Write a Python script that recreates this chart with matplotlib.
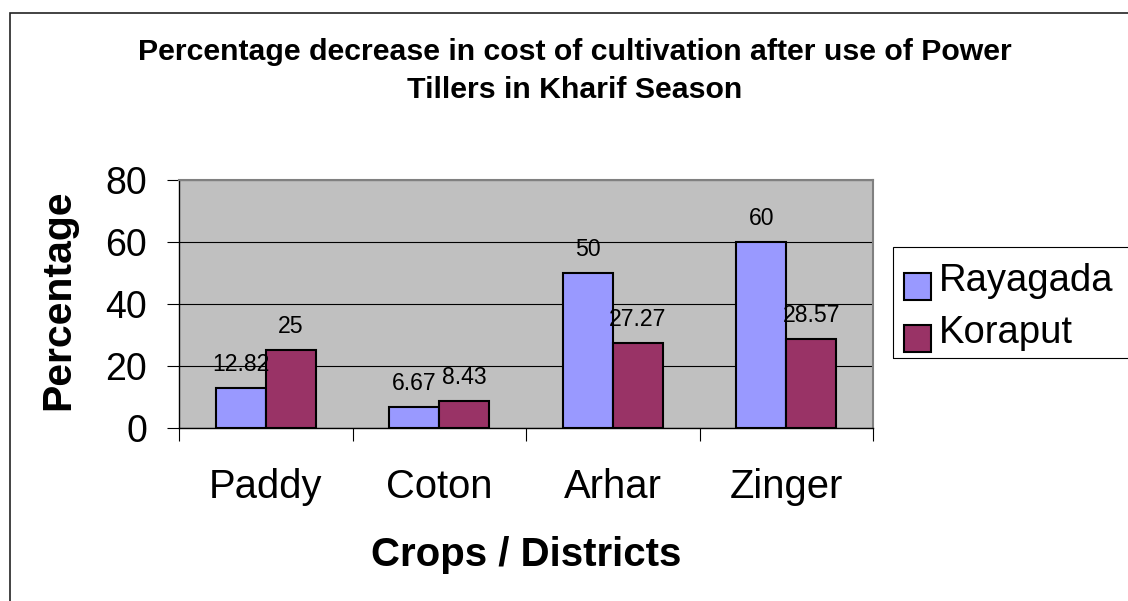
import matplotlib
matplotlib.use("Agg")
import matplotlib.pyplot as plt
from matplotlib.patches import Rectangle
from matplotlib.legend_handler import HandlerPatch
import numpy as np

plt.rcParams['font.family'] = ['Liberation Sans', 'DejaVu Sans']

crops = ["Paddy", "Coton", "Arhar", "Zinger"]
rayagada = [12.82, 6.67, 50, 60]
koraput = [25, 8.43, 27.27, 28.57]
rayagada_labels = ["12.82", "6.67", "50", "60"]
koraput_labels = ["25", "8.43", "27.27", "28.57"]
y_ticks = [0, 20, 40, 60, 80]

W, H = 1128, 601
fig = plt.figure(figsize=(W / 100, H / 100), dpi=100)
fig.patch.set_facecolor("white")

# plot area in pixel terms
left, right, top, bottom = 179, 873, 180, 427.5
ax = fig.add_axes([left / W, (H - bottom) / H, (right - left) / W, (bottom - top) / H])
ax.set_facecolor("#C0C0C0")

x = np.arange(len(crops))
bw = 0.288
b1 = ax.bar(x - bw / 2, rayagada, bw, color="#9999FF", edgecolor="black", linewidth=1.5,
            label="Rayagada", zorder=3)
b2 = ax.bar(x + bw / 2, koraput, bw, color="#993366", edgecolor="black", linewidth=1.5,
            label="Koraput", zorder=3)

for bars, labels in ((b1, rayagada_labels), (b2, koraput_labels)):
    for rect, lab in zip(bars, labels):
        ax.annotate(lab, (rect.get_x() + rect.get_width() / 2, rect.get_height()),
                    xytext=(0, 12.3), textcoords="offset points",
                    ha="center", va="baseline", fontsize=16.6, zorder=4)

ax.set_xlim(-0.5, len(crops) - 0.5)
ax.set_ylim(0, 80)
ax.set_yticks(y_ticks)
ax.yaxis.grid(True, color="black", linewidth=0.8, zorder=1)
ax.set_axisbelow(True)

ax.set_xticks(x)
ax.set_xticklabels(crops, fontsize=28.8)
ax.set_xticks(np.arange(-0.5, len(crops)), minor=True)
ax.tick_params(axis="x", which="major", length=0, pad=29.5)
ax.tick_params(axis="x", which="minor", length=9, width=0.8, direction="out", color="black")
ax.tick_params(axis="y", which="major", length=9, width=0.8, direction="out",
               labelsize=27, pad=14)

for side in ("top", "right"):
    ax.spines[side].set_color("#808080")
    ax.spines[side].set_linewidth(1.5)
for side in ("left", "bottom"):
    ax.spines[side].set_color("black")
    ax.spines[side].set_linewidth(1.0)

ax.set_ylabel("Percentage", fontsize=29.5, fontweight="bold")
ax.yaxis.set_label_coords(-0.146, 0.515)
ax.set_xlabel("Crops / Districts", fontsize=29, fontweight="bold")
ax.xaxis.set_label_coords(0.5, -0.438)

title_lines = ["Percentage decrease in cost of cultivation after use of Power",
               "Tillers in Kharif Season"]
for line, base in zip(title_lines, (60, 98)):
    fig.text(575 / W, 1 - base / H, line, ha="center", va="baseline",
             fontsize=21.8, fontweight="bold")


def lowered_key(legend, orig_handle, xdescent, ydescent, width, height, fontsize):
    # keys sit a little below the text baseline
    return Rectangle((-xdescent, -ydescent - 0.24 * fontsize), width, height)


key_handler = HandlerPatch(patch_func=lowered_key)
h1, h2 = b1.patches[0], b2.patches[0]
fig.legend(handles=[h1, h2], labels=["Rayagada", "Koraput"], loc="upper left",
           bbox_to_anchor=(904 / W, 1 - 263 / H), frameon=False, fontsize=27.5,
           handlelength=0.71, handleheight=0.71, handletextpad=0.2, labelspacing=0.41,
           borderpad=0, borderaxespad=0,
           handler_map={h1: key_handler, h2: key_handler})
fig.patches.append(Rectangle((893 / W, (H - 358) / H), 260 / W, 111 / H,
                             transform=fig.transFigure, fill=False,
                             edgecolor="black", linewidth=0.8))

# chart area border
fig.patches.append(Rectangle((9.5 / W, -0.1), 1.2, (H - 12.5) / H + 0.1,
                             transform=fig.transFigure, fill=False,
                             edgecolor="#222222", linewidth=1.2))

fig.savefig("out.png", dpi=100)
